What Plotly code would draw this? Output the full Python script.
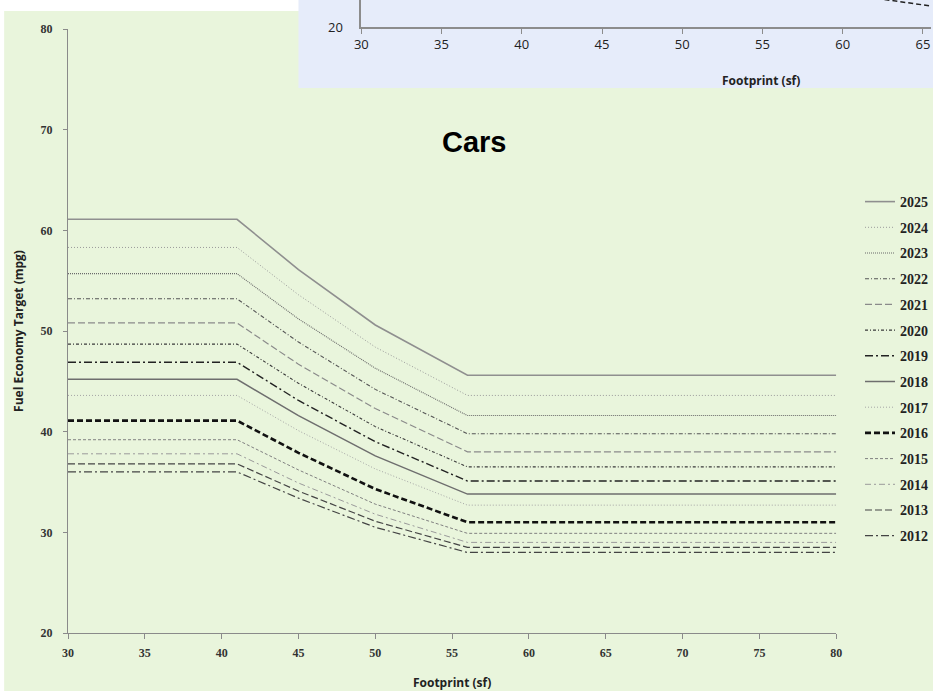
import plotly.graph_objects as go

# ---------------- data ----------------
footprint = [30, 41, 45, 50, 56, 80]

mpg_2025 = [61.1, 61.1, 56.1, 50.6, 45.6, 45.6]
mpg_2024 = [58.3, 58.3, 53.6, 48.4, 43.6, 43.6]
mpg_2023 = [55.7, 55.7, 51.2, 46.3, 41.6, 41.6]
mpg_2022 = [53.2, 53.2, 48.9, 44.2, 39.8, 39.8]
mpg_2021 = [50.8, 50.8, 46.7, 42.3, 38.0, 38.0]
mpg_2020 = [48.7, 48.7, 44.8, 40.5, 36.5, 36.5]
mpg_2019 = [46.9, 46.9, 43.1, 39.0, 35.1, 35.1]
mpg_2018 = [45.2, 45.2, 41.6, 37.6, 33.8, 33.8]
mpg_2017 = [43.6, 43.6, 40.1, 36.3, 32.7, 32.7]
mpg_2016 = [41.1, 41.1, 37.9, 34.3, 31.0, 31.0]
mpg_2015 = [39.2, 39.2, 36.2, 32.8, 29.9, 29.9]
mpg_2014 = [37.8, 37.8, 34.9, 31.8, 29.0, 29.0]
mpg_2013 = [36.8, 36.8, 34.1, 31.1, 28.5, 28.5]
mpg_2012 = [36.0, 36.0, 33.4, 30.5, 28.0, 28.0]

years = ["2025", "2024", "2023", "2022", "2021", "2020", "2019",
         "2018", "2017", "2016", "2015", "2014", "2013", "2012"]
series = [mpg_2025, mpg_2024, mpg_2023, mpg_2022, mpg_2021, mpg_2020, mpg_2019,
          mpg_2018, mpg_2017, mpg_2016, mpg_2015, mpg_2014, mpg_2013, mpg_2012]

x_ticks = [30, 35, 40, 45, 50, 55, 60, 65, 70, 75, 80]
y_ticks = [20, 30, 40, 50, 60, 70, 80]

# fragment of the overlapping (background) chart
bg_x_ticks = [30, 35, 40, 45, 50, 55, 60, 65]
bg_frag_x = [62.6, 65.5]
bg_frag_y = [22.75, 22.1]

# ---------------- styles ----------------
styles = {
    "2025": dict(color="#8f8f8f", width=1.6, dash="solid"),
    "2024": dict(color="#9a9a9a", width=1.0, dash="1px,2px"),
    "2023": dict(color="#6a6a6a", width=1.1, dash="1px,1px"),
    "2022": dict(color="#555555", width=1.1, dash="4px,2px,1px,2px"),
    "2021": dict(color="#8a8a8a", width=1.2, dash="7px,3px"),
    "2020": dict(color="#3a3a3a", width=1.1, dash="3px,2px,1px,2px"),
    "2019": dict(color="#222222", width=1.4, dash="8px,3px,2px,3px"),
    "2018": dict(color="#6e6e6e", width=1.5, dash="solid"),
    "2017": dict(color="#a5a5a5", width=1.0, dash="1px,2px"),
    "2016": dict(color="#111111", width=2.6, dash="6px,3px"),
    "2015": dict(color="#808080", width=1.0, dash="3px,2px"),
    "2014": dict(color="#9a9a9a", width=1.0, dash="6px,3px,2px,3px"),
    "2013": dict(color="#444444", width=1.2, dash="7px,3px"),
    "2012": dict(color="#444444", width=1.2, dash="8px,3px,2px,3px"),
}

W, H = 933, 691
ML, MR, MT, MB = 68, 0, 0, 58
PW, PH = W - ML - MR, H - MT - MB


def px_x(p):
    return (p - ML) / PW


def px_y(p):
    return (H - MB - p) / PH


fig = go.Figure()

for yr, vals in zip(years, series):
    st = styles[yr]
    fig.add_trace(go.Scatter(
        x=footprint, y=vals, mode="lines", name=yr, legendgroup=yr,
        line=dict(color=st["color"], width=st["width"], dash=st["dash"]),
        xaxis="x", yaxis="y",
    ))

fig.add_trace(go.Scatter(
    x=bg_frag_x, y=bg_frag_y, mode="lines", showlegend=False,
    line=dict(color="#222222", width=1.5, dash="5px,3px"),
    xaxis="x2", yaxis="y2", hoverinfo="skip",
))

tick_font = dict(family="Liberation Serif", size=12, color="#333333", weight="bold")

fig.update_layout(
    template="none",
    width=W, height=H,
    margin=dict(l=ML, r=MR, t=MT, b=MB, pad=0),
    paper_bgcolor="white",
    plot_bgcolor="rgba(0,0,0,0)",
    showlegend=True,
    legend=dict(
        x=px_x(862), y=px_y(186), xanchor="left", yanchor="top",
        bgcolor="rgba(0,0,0,0)", borderwidth=0,
        font=dict(family="Liberation Serif", size=14, color="#222222", weight="bold"),
        tracegroupgap=4.5, traceorder="grouped", itemwidth=30,
    ),
    xaxis=dict(
        domain=[0, px_x(838)], range=[30, 80], tickvals=x_ticks,
        showline=True, linecolor="#8a8a8a", linewidth=1,
        ticks="outside", ticklen=5, tickcolor="#8a8a8a",
        showgrid=False, zeroline=False, tickfont=tick_font,
        ticklabelstandoff=4, automargin=False,
        title=dict(text="Footprint (sf)", standoff=20,
                   font=dict(family="Open Sans", size=12, color="#222222", weight="bold")),
        anchor="y",
    ),
    yaxis=dict(
        domain=[0, px_y(29)], range=[20, 80], tickvals=y_ticks,
        showline=True, linecolor="#8a8a8a", linewidth=1,
        ticks="outside", ticklen=4, tickcolor="#8a8a8a",
        showgrid=False, zeroline=False, tickfont=tick_font,
        ticklabelstandoff=8, automargin=False,
        title=dict(text="Fuel Economy Target (mpg)", standoff=14,
                   font=dict(family="Open Sans", size=12, color="#222222", weight="bold")),
        anchor="x",
    ),
    xaxis2=dict(
        domain=[px_x(362), 1], range=[30, 65.5], tickvals=bg_x_ticks,
        showline=True, linecolor="#8c8c8c", linewidth=1.5,
        ticks="outside", ticklen=5, tickcolor="#8c8c8c",
        showgrid=False, zeroline=False, automargin=False,
        tickfont=dict(family="Open Sans", size=13, color="#222222"),
        ticklabelstandoff=0,
        anchor="y2",
    ),
    yaxis2=dict(
        domain=[px_y(27), 1], range=[20, 22.7], tickvals=[20],
        showline=True, linecolor="#8c8c8c", linewidth=1.5,
        ticks="", showgrid=False, zeroline=False, automargin=False,
        tickfont=dict(family="Open Sans", size=13, color="#222222"),
        ticklabelstandoff=14,
        anchor="x2",
    ),
    shapes=[
        dict(type="rect", xref="paper", yref="paper", layer="below",
             x0=px_x(4), x1=1.02, y0=px_y(692), y1=px_y(11),
             fillcolor="#E9F5DC", line=dict(width=0)),
        dict(type="rect", xref="paper", yref="paper", layer="below",
             x0=px_x(299), x1=1.02, y0=px_y(88), y1=1.02,
             fillcolor="#E6ECFA", line=dict(width=0)),
    ],
    annotations=[
        dict(text="<b>Cars</b>", xref="paper", yref="paper",
             x=px_x(475), y=px_y(142), xanchor="center", yanchor="middle",
             showarrow=False,
             font=dict(family="Liberation Sans", size=29, color="#000000")),
        dict(text="<b>Footprint (sf)</b>", xref="paper", yref="paper",
             x=px_x(763), y=px_y(80), xanchor="center", yanchor="middle",
             showarrow=False,
             font=dict(family="Open Sans", size=12, color="#222222")),
    ],
)

fig.write_html(
    "out.html",
    config={"displayModeBar": False},
    post_script="document.body.style.margin='0';document.body.style.overflow='hidden';",
)
